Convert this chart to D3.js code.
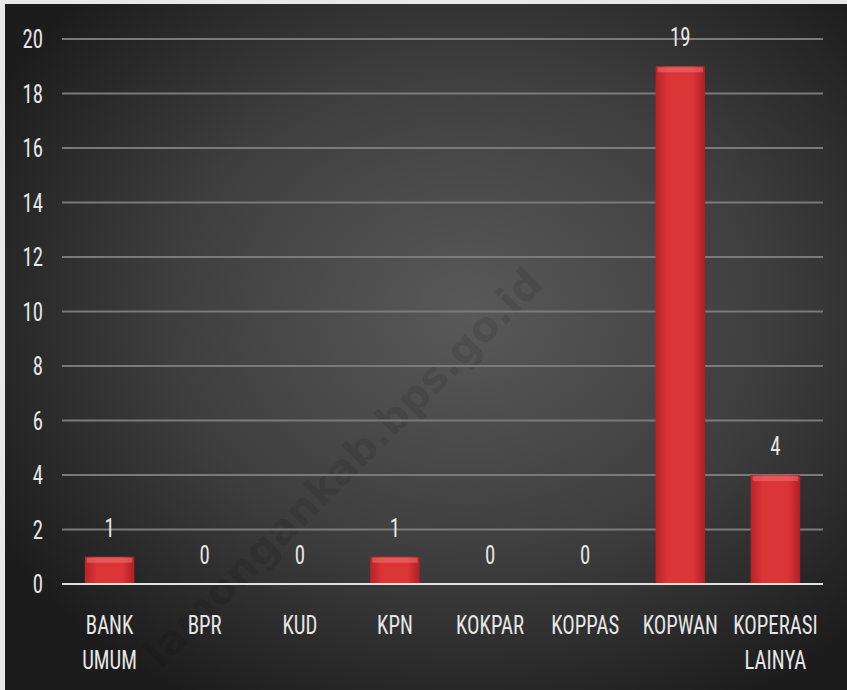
<!DOCTYPE html>
<html>
<head>
<meta charset="utf-8">
<script src="https://cdn.jsdelivr.net/npm/d3@7"></script>
<style>
  body { margin: 0; background: #e8e8e8; }
  svg { display: block; }
  text { font-family: "Liberation Sans Narrow", "Roboto Condensed", "DejaVu Sans Condensed", sans-serif; }
</style>
</head>
<body>
<div id="chart"></div>
<script>
// data
const categories = ["BANK UMUM", "BPR", "KUD", "KPN", "KOKPAR", "KOPPAS", "KOPWAN", "KOPERASI LAINYA"];
const values = [1, 0, 0, 1, 0, 0, 19, 4];
const yTicks = [0, 2, 4, 6, 8, 10, 12, 14, 16, 18, 20];

const width = 847;
const height = 690;
const margin = { top: 39, right: 24, bottom: 106, left: 62 };
const fontSize = 26;
const squeeze = 0.8; // the original font is tall and narrow

const svg = d3.select("#chart")
    .append("svg")
    .attr("width", width)
    .attr("height", height);

const defs = svg.append("defs");

// dark radial background
const bg = defs.append("radialGradient")
    .attr("id", "bg")
    .attr("cx", "55%").attr("cy", "45%").attr("r", "65%");
bg.append("stop").attr("offset", "0%").attr("stop-color", "#595959");
bg.append("stop").attr("offset", "55%").attr("stop-color", "#3e3e3e");
bg.append("stop").attr("offset", "100%").attr("stop-color", "#1c1c1c");

// bar shading
const barGrad = defs.append("linearGradient")
    .attr("id", "bar")
    .attr("x1", "0").attr("x2", "1").attr("y1", "0").attr("y2", "0");
barGrad.append("stop").attr("offset", "0%").attr("stop-color", "#b82226");
barGrad.append("stop").attr("offset", "25%").attr("stop-color", "#dc3538");
barGrad.append("stop").attr("offset", "75%").attr("stop-color", "#dc3538");
barGrad.append("stop").attr("offset", "100%").attr("stop-color", "#b01f23");

svg.append("rect")
    .attr("x", 5).attr("y", 4)
    .attr("width", width - 5).attr("height", height - 4)
    .attr("fill", "url(#bg)");

// watermark
svg.append("text")
    .attr("transform", "translate(345,470) rotate(-45)")
    .attr("text-anchor", "middle")
    .attr("dominant-baseline", "middle")
    .style("font-family", "'DejaVu Sans', sans-serif")
    .style("font-weight", "bold")
    .style("font-size", "41px")
    .attr("fill", "#000")
    .attr("fill-opacity", 0.11)
    .text("lamongankab.bps.go.id");

const x = d3.scaleBand()
    .domain(categories)
    .range([margin.left, width - margin.right])
    .paddingInner(0.48)
    .paddingOuter(0.24);

const y = d3.scaleLinear()
    .domain([0, 20])
    .range([height - margin.bottom, margin.top]);

// draws a squeezed label at (px, py)
function label(g, px, py, txt, anchor) {
    return g.append("text")
        .attr("transform", `translate(${px},${py}) scale(${squeeze},1)`)
        .attr("text-anchor", anchor || "middle")
        .attr("fill", "#e6e6e6")
        .style("font-size", fontSize + "px")
        .text(txt);
}

// gridlines
svg.append("g")
    .selectAll("line")
    .data(yTicks.filter(d => d > 0))
    .join("line")
    .attr("x1", margin.left)
    .attr("x2", width - margin.right)
    .attr("y1", d => y(d))
    .attr("y2", d => y(d))
    .attr("stroke", "#7a7a7a")
    .attr("stroke-width", 2);

// y axis labels
const yG = svg.append("g");
yTicks.forEach(t => label(yG, margin.left - 19, y(t) + 9, t, "end"));

// bars
svg.append("g")
    .selectAll("rect")
    .data(values)
    .join("rect")
    .attr("x", (d, i) => x(categories[i]))
    .attr("y", d => y(d))
    .attr("width", x.bandwidth())
    .attr("height", d => y(0) - y(d))
    .attr("fill", "url(#bar)");

// top highlight of each bar
svg.append("g")
    .selectAll("rect")
    .data(values.map((v, i) => ({ v, i })).filter(d => d.v > 0))
    .join("rect")
    .attr("x", d => x(categories[d.i]) + 2)
    .attr("y", d => y(d.v) + 1)
    .attr("width", x.bandwidth() - 4)
    .attr("height", 5)
    .attr("fill", "#f07a7c")
    .attr("opacity", 0.5);

// x axis line
svg.append("line")
    .attr("x1", margin.left)
    .attr("x2", width - margin.right)
    .attr("y1", y(0))
    .attr("y2", y(0))
    .attr("stroke", "#e0e0e0")
    .attr("stroke-width", 2);

// value labels
const vG = svg.append("g");
values.forEach((v, i) => label(vG, x(categories[i]) + x.bandwidth() / 2, y(v) - 20, v));

// category labels (wrap on space for two-word names)
const cG = svg.append("g");
categories.forEach(c => {
    c.split(" ").forEach((w, k) => {
        label(cG, x(c) + x.bandwidth() / 2, y(0) + 50 + k * 35, w);
    });
});
</script>
</body>
</html>
